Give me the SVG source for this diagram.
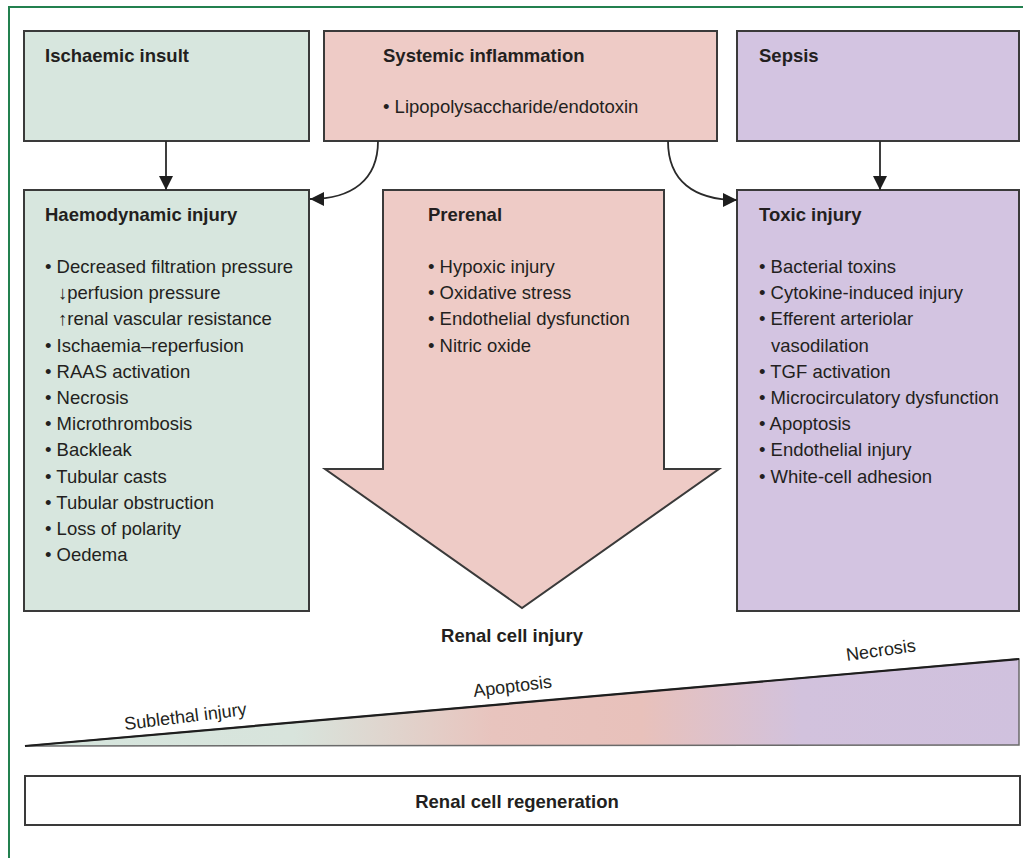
<svg xmlns="http://www.w3.org/2000/svg" width="1023" height="858" viewBox="0 0 1023 858">
  <style>
    text { font-family: "Liberation Sans", Arial, sans-serif; fill: #231f20; }
    .t { font-size: 18.5px; font-weight: bold; }
    .b { font-size: 18.5px; }
    .w { font-size: 18px; }
    .box { stroke: #3a3a3a; stroke-width: 2; }
    .green { fill: #d7e6de; }
    .pink { fill: #eecbc6; }
    .purple { fill: #d3c4e1; }
    .conn { fill: none; stroke: #2a2a2a; stroke-width: 1.8; }
  </style>
  <defs>
    <marker id="ah" viewBox="0 0 14 14" refX="14" refY="7" markerWidth="14" markerHeight="14" markerUnits="userSpaceOnUse" orient="auto">
      <path d="M0,0 L14,7 L0,14 Z" fill="#1e1e1e"/>
    </marker>
    <linearGradient id="wedgeGrad" gradientUnits="userSpaceOnUse" x1="25" y1="0" x2="1020" y2="0">
      <stop offset="0" stop-color="#d5e5dd"/>
      <stop offset="0.27" stop-color="#d8e4dc"/>
      <stop offset="0.47" stop-color="#e8c4be"/>
      <stop offset="0.62" stop-color="#e8c1bb"/>
      <stop offset="0.78" stop-color="#d2c2dd"/>
      <stop offset="1" stop-color="#d0c1de"/>
    </linearGradient>
  </defs>

  <rect width="1023" height="858" fill="#ffffff"/>
  <g id="frame">
    <path d="M9,858 L9,7 L1023,7" fill="none" stroke="#23804f" stroke-width="2"/>
  </g>

  <g id="ischaemic-insult">
    <rect class="box green" x="24" y="31" width="285" height="110"/>
    <text class="t" x="45" y="62">Ischaemic insult</text>
  </g>

  <g id="systemic-inflammation">
    <rect class="box pink" x="324" y="31" width="393" height="110"/>
    <text class="t" x="383" y="62">Systemic inflammation</text>
    <text class="b" x="383" y="113">• Lipopolysaccharide/endotoxin</text>
  </g>

  <g id="sepsis">
    <rect class="box purple" x="737" y="31" width="282" height="110"/>
    <text class="t" x="759" y="62">Sepsis</text>
  </g>

  <g id="haemodynamic-injury">
    <rect class="box green" x="24" y="190" width="285" height="421"/>
    <text class="t" x="45" y="221">Haemodynamic injury</text>
    <text class="b">
      <tspan x="45" y="273">• Decreased filtration pressure</tspan>
      <tspan x="58" dy="26.2">↓perfusion pressure</tspan>
      <tspan x="58" dy="26.2">↑renal vascular resistance</tspan>
      <tspan x="45" dy="26.2">• Ischaemia–reperfusion</tspan>
      <tspan x="45" dy="26.2">• RAAS activation</tspan>
      <tspan x="45" dy="26.2">• Necrosis</tspan>
      <tspan x="45" dy="26.2">• Microthrombosis</tspan>
      <tspan x="45" dy="26.2">• Backleak</tspan>
      <tspan x="45" dy="26.2">• Tubular casts</tspan>
      <tspan x="45" dy="26.2">• Tubular obstruction</tspan>
      <tspan x="45" dy="26.2">• Loss of polarity</tspan>
      <tspan x="45" dy="26.2">• Oedema</tspan>
    </text>
  </g>

  <g id="prerenal">
    <polygon class="box pink" points="383,190 664,190 664,469 719,469 522,608 325,469 383,469"/>
    <text class="t" x="428" y="221">Prerenal</text>
    <text class="b">
      <tspan x="428" y="273">• Hypoxic injury</tspan>
      <tspan x="428" dy="26.2">• Oxidative stress</tspan>
      <tspan x="428" dy="26.2">• Endothelial dysfunction</tspan>
      <tspan x="428" dy="26.2">• Nitric oxide</tspan>
    </text>
  </g>

  <g id="toxic-injury">
    <rect class="box purple" x="737" y="190" width="282" height="421"/>
    <text class="t" x="759" y="221">Toxic injury</text>
    <text class="b">
      <tspan x="759" y="273">• Bacterial toxins</tspan>
      <tspan x="759" dy="26.2">• Cytokine-induced injury</tspan>
      <tspan x="759" dy="26.2">• Efferent arteriolar</tspan>
      <tspan x="771" dy="26.2">vasodilation</tspan>
      <tspan x="759" dy="26.2">• TGF activation</tspan>
      <tspan x="759" dy="26.2">• Microcirculatory dysfunction</tspan>
      <tspan x="759" dy="26.2">• Apoptosis</tspan>
      <tspan x="759" dy="26.2">• Endothelial injury</tspan>
      <tspan x="759" dy="26.2">• White-cell adhesion</tspan>
    </text>
  </g>

  <g id="connectors">
    <path class="conn" d="M166,141 L166,190" marker-end="url(#ah)"/>
    <path class="conn" d="M880,141 L880,190" marker-end="url(#ah)"/>
    <path class="conn" d="M378,141 C378,180 352,199 310,199" marker-end="url(#ah)"/>
    <path class="conn" d="M668,141 C668,181 694,200 737,200" marker-end="url(#ah)"/>
  </g>

  <g id="renal-cell-injury">
    <text class="t" x="512" y="642" text-anchor="middle">Renal cell injury</text>
    <polygon points="25,746 1019,659 1019,745" fill="url(#wedgeGrad)" stroke="#6a6a6a" stroke-width="1.5"/>
    <line x1="25" y1="746" x2="1019" y2="659" stroke="#1e1e1e" stroke-width="2.2"/>
    <text class="w" x="125" y="730" transform="rotate(-7 125 730)">Sublethal injury</text>
    <text class="w" x="474" y="697" transform="rotate(-7 474 697)">Apoptosis</text>
    <text class="w" x="847" y="661" transform="rotate(-8 847 661)">Necrosis</text>
  </g>

  <g id="renal-cell-regeneration">
    <rect class="box" x="25" y="776" width="995" height="49" fill="#ffffff"/>
    <text class="t" x="517" y="808" text-anchor="middle">Renal cell regeneration</text>
  </g>
</svg>
